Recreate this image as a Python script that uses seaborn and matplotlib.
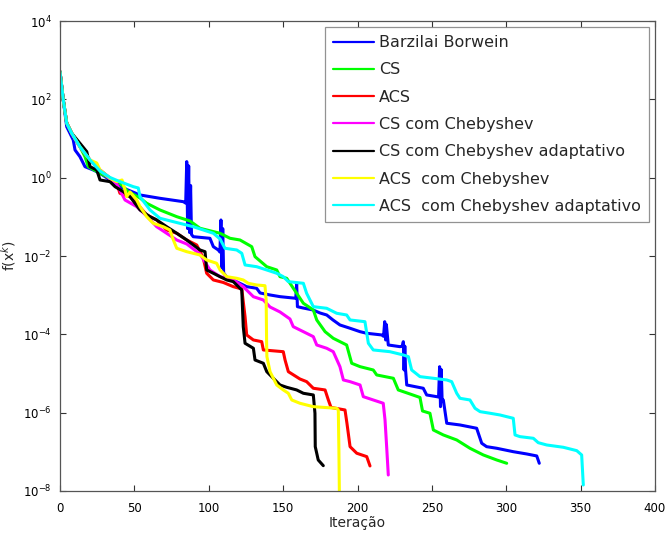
import numpy as np
import pandas as pd
import matplotlib
matplotlib.use("Agg")
import matplotlib.pyplot as plt
import seaborn as sns
from matplotlib.ticker import FixedLocator, NullLocator, LogFormatterSciNotation

# ---- data (y given as log10 f(x^k)) ----
methods = ["Barzilai Borwein", "CS", "ACS", "CS com Chebyshev",
           "CS com Chebyshev adaptativo", "ACS  com Chebyshev",
           "ACS  com Chebyshev adaptativo"]
colors = ["#0000ff", "#00ff00", "#ff0000", "#ff00ff", "#000000", "#ffff00", "#00ffff"]

bb_x = [0, 2.2, 4.5, 8.9, 10.1, 13.4, 16.8, 22.4, 26.9, 33.6, 40.3, 53.8, 67.2, 82.9,
        84.5, 85.2, 85.8, 86.5, 87.1, 87.8, 88.4, 89.6, 100.8, 103.1, 106.4, 107.5, 108.2,
        108.8, 109.4, 110, 112, 116.3, 125.5, 132.2, 134.5, 141.2, 147.9, 156.6, 158.5,
        159.1, 159.6, 163.4, 170.1, 174.8, 179.3, 183.5, 188.2, 195, 201.7, 206.2, 216.3,
        217.5, 218.3, 218.9, 219.4, 220.7, 228.6, 230.2, 230.8, 231.3, 231.8, 232.3, 233.1,
        244.2, 246.5, 253.2, 254.5, 255.2, 255.8, 256.3, 256.9, 257.7, 260, 268.9, 280.1,
        283.5, 286.8, 293.6, 304.7, 313.7, 320.5, 322.2]
bb_lf = [2.706, 1.983, 1.302, 0.962, 0.707, 0.536, 0.280, 0.196, 0.112, -0.059, -0.230,
         -0.442, -0.527, -0.613, -0.65, 0.41, -1.3, 0.3, -1.4, -0.2, -1.45, -1.507, -1.548,
         -1.762, -1.846, -1.9, -1.08, -2.3, -1.3, -2.43, -2.536, -2.612, -2.783, -2.824,
         -2.944, -2.995, -3.038, -3.072, -3.08, -2.697, -3.294, -3.327, -3.378, -3.455,
         -3.506, -3.633, -3.761, -3.845, -3.932, -3.973, -4.016, -4.05, -3.677, -4.144,
         -3.75, -4.272, -4.315, -4.3, -4.187, -4.91, -4.3, -4.9, -5.293, -5.377, -5.548,
         -5.591, -5.6, -4.826, -5.847, -4.9, -5.7, -5.676, -6.27, -6.314, -6.398, -6.781,
         -6.868, -6.909, -6.996, -7.054, -7.105, -7.292]

cs_x = [0, 2.2, 4.5, 7.9, 13.4, 16.8, 19.0, 26.9, 40.3, 45.9, 53.8, 58.3, 67.2, 78.5,
        87.4, 94.1, 107.6, 114.3, 121, 128.9, 131.1, 139, 145.7, 147.9, 152.4, 159.1,
        163.6, 170.3, 172.6, 178.2, 183.7, 192.7, 196.1, 201.7, 210.6, 212.9, 224.1,
        227.4, 235.3, 242, 243.7, 248.7, 251, 257.7, 266.7, 275.6, 284.6, 293.6, 300.3]
cs_lf = [2.706, 1.983, 1.396, 1.133, 0.791, 0.536, 0.280, 0.112, -0.143, -0.358, -0.519,
         -0.654, -0.825, -0.996, -1.106, -1.292, -1.420, -1.548, -1.591, -1.762, -2.017,
         -2.273, -2.357, -2.528, -2.569, -2.952, -3.207, -3.378, -3.633, -3.932, -4.101,
         -4.272, -4.739, -4.825, -4.910, -5.037, -5.122, -5.42, -5.523, -5.612, -5.957,
         -6.015, -6.442, -6.569, -6.697, -6.909, -7.08, -7.208, -7.292]

acs_x = [0, 2.2, 4.5, 7.9, 13.4, 20.2, 26.9, 33.6, 38.1, 40.3, 47.1, 51.6, 58.3, 65,
         71.7, 78.5, 85.2, 91.9, 96.3, 98.6, 103.1, 109.8, 116.5, 122.2, 124.4, 125.5,
         130, 135.6, 136.7, 150.1, 151.3, 153.5, 161.3, 165.8, 170.3, 178.2, 180.4, 182.2,
         191.6, 192.9, 195, 199.5, 206.2, 208.4]
acs_lf = [2.706, 1.983, 1.396, 1.133, 0.791, 0.451, 0.196, -0.008, -0.143, -0.399,
          -0.485, -0.654, -0.953, -1.080, -1.336, -1.420, -1.591, -1.719, -2.050, -2.441,
          -2.612, -2.676, -2.783, -2.842, -3.549, -4.016, -4.144, -4.187, -4.399, -4.443,
          -4.655, -4.953, -5.140, -5.208, -5.377, -5.420, -5.676, -5.867, -5.931, -6.27,
          -6.868, -7.036, -7.122, -7.36]

csc_x = [0, 2.2, 4.5, 7.9, 13.4, 20.2, 26.9, 33.6, 38.1, 43.7, 51.6, 58.3, 65, 71.7,
         78.5, 85.2, 94.1, 100.8, 107.6, 116.5, 123.2, 130, 136.7, 141.2, 147.9, 154.6,
         156.8, 163.6, 170.3, 172.6, 179.3, 183.7, 188.2, 190.5, 195, 201.7, 203.9, 210.6,
         217.3, 218.5, 219.6, 220.7]
csc_lf = [2.706, 1.983, 1.396, 1.133, 0.791, 0.451, 0.196, -0.034, -0.161, -0.570,
          -0.741, -0.978, -1.252, -1.420, -1.591, -1.693, -1.948, -2.357, -2.528, -2.612,
          -2.783, -3.039, -3.123, -3.302, -3.429, -3.608, -3.804, -3.932, -4.059, -4.272,
          -4.356, -4.443, -4.826, -5.165, -5.208, -5.293, -5.591, -5.676, -5.760, -6.186,
          -6.868, -7.591]

csca_x = [0, 2.2, 4.5, 7.9, 13.4, 18.0, 20.2, 24.7, 26.9, 33.6, 37, 42.6, 47.1, 53.8,
          60.5, 65, 71.7, 78.5, 85.2, 94.1, 97.5, 98.6, 103.1, 107.6, 112.1, 116.5, 119.9,
          122.2, 123.2, 124.4, 130, 131.1, 136.7, 139, 143.4, 147.9, 152.4, 159.1, 163.6,
          170.3, 171.4, 171.6, 173.6, 177]
csca_lf = [2.706, 1.983, 1.396, 1.133, 0.878, 0.663, 0.280, 0.196, -0.059, -0.102,
           -0.230, -0.358, -0.485, -0.825, -0.996, -1.080, -1.252, -1.420, -1.591, -1.846,
           -1.890, -2.357, -2.441, -2.528, -2.612, -2.655, -2.783, -2.868, -3.804, -4.228,
           -4.356, -4.655, -4.739, -4.953, -5.122, -5.293, -5.352, -5.420, -5.505, -5.548,
           -6.015, -6.868, -7.208, -7.353]

acsc_x = [0, 2.2, 4.5, 7.9, 13.4, 20.2, 24.7, 26.9, 33.6, 38.1, 41.7, 43.7, 44.8, 47.1,
          51.6, 53.8, 58.3, 62.7, 69.4, 73.9, 76.2, 78.5, 85.2, 94.1, 98.6, 105.3, 107.6,
          112.1, 118.8, 123.2, 126.6, 132.2, 137.8, 138.6, 138.9, 139.1, 141.2, 145.7,
          150.1, 153.5, 155.8, 161.3, 170.3, 186, 187.1, 187.5, 187.8]
acsc_lf = [2.706, 1.983, 1.396, 1.133, 0.791, 0.451, 0.375, 0.196, -0.016, -0.102,
           -0.059, -0.315, -0.485, -0.366, -0.570, -0.741, -0.996, -1.165, -1.252, -1.336,
           -1.591, -1.803, -1.890, -1.974, -2.102, -2.186, -2.357, -2.528, -2.569, -2.612,
           -2.697, -2.740, -2.758, -3.123, -4.228, -4.570, -4.953, -5.293, -5.420, -5.505,
           -5.676, -5.760, -5.847, -5.888, -5.931, -6.952, -8.0]

acsca_x = [0, 2.2, 4.5, 7.9, 13.4, 20.2, 26.9, 33.6, 40.3, 49.3, 52.6, 53.8, 60.5, 67.2,
           76.2, 89.6, 103.1, 107.6, 110.9, 118.8, 122.2, 124.4, 132.2, 139, 145.7, 150.1,
           153.5, 163.6, 165.8, 170.3, 179.3, 186, 192.7, 195, 205, 207.3, 210.6, 221.8,
           230.8, 234.2, 236.4, 242, 251, 260, 263.3, 266.7, 268.9, 275.6, 279, 282.4,
           289.1, 295.8, 300.3, 304.7, 305.9, 309.2, 318.2, 321.5, 327.2, 338.4, 347.4,
           350.7, 351.8]
acsca_lf = [2.706, 1.983, 1.388, 1.133, 0.791, 0.451, 0.170, 0.005, -0.102, -0.230,
            -0.263, -0.485, -0.825, -1.037, -1.124, -1.252, -1.420, -1.565, -1.803, -1.846,
            -1.931, -2.229, -2.273, -2.357, -2.441, -2.528, -2.655, -2.697, -2.952, -3.294,
            -3.335, -3.462, -3.506, -3.633, -3.677, -4.228, -4.399, -4.443, -4.527, -4.570,
            -4.910, -5.080, -5.122, -5.165, -5.208, -5.505, -5.633, -5.676, -5.888, -5.974,
            -6.015, -6.059, -6.102, -6.143, -6.569, -6.612, -6.654, -6.766, -6.825, -6.884,
            -6.970, -7.080, -7.846]

all_x = [bb_x, cs_x, acs_x, csc_x, csca_x, acsc_x, acsca_x]
all_lf = [bb_lf, cs_lf, acs_lf, csc_lf, csca_lf, acsc_lf, acsca_lf]

x_ticks = [0, 50, 100, 150, 200, 250, 300, 350, 400]
y_ticks = [1e-8, 1e-6, 1e-4, 1e-2, 1e0, 1e2, 1e4]

frames = []
for name, xs, lf in zip(methods, all_x, all_lf):
    frames.append(pd.DataFrame({"iter": xs, "f": np.power(10.0, lf), "method": name}))
df = pd.concat(frames, ignore_index=True)

sns.set_style("ticks")
plt.rcParams['font.family'] = ['DejaVu Sans']

fig = plt.figure(figsize=(6.67, 5.34), dpi=100)
ax = fig.add_axes([60 / 667, 43 / 534, 595 / 667, 470 / 534])

sns.lineplot(data=df, x="iter", y="f", hue="method", hue_order=methods,
             palette=dict(zip(methods, colors)), sort=False, estimator=None,
             linewidth=2.2, ax=ax, legend=True)

ax.set_yscale('log')
ax.set_xlim(0, 400)
ax.set_ylim(1e-8, 1e4)
ax.xaxis.set_major_locator(FixedLocator(x_ticks))
ax.yaxis.set_major_locator(FixedLocator(y_ticks))
ax.yaxis.set_major_formatter(LogFormatterSciNotation())
ax.yaxis.set_minor_locator(NullLocator())
ax.xaxis.set_minor_locator(NullLocator())
ax.tick_params(direction='in', length=4, width=0.8, top=True, right=True,
               labelsize=8.5, colors='#333333', labelcolor='black')
ax.tick_params(axis='x', pad=8)
ax.tick_params(axis='y', pad=6)
for s in ax.spines.values():
    s.set_visible(True)
    s.set_color('#555555')
    s.set_linewidth(0.9)

ax.set_xlabel("Iteração", fontsize=10, labelpad=1)
ax.set_ylabel("f(x$^{k}$)", fontsize=10)
ax.yaxis.set_label_coords(-0.07, 0.5)

handles, labels = ax.get_legend_handles_labels()
leg = ax.legend(handles, labels, loc='upper right', bbox_to_anchor=(0.99, 0.987),
                borderaxespad=0, frameon=True, fancybox=False, edgecolor='#777777',
                fontsize=11.5, handlelength=2.6, labelspacing=0.77, handletextpad=0.3,
                borderpad=0.5)
leg.get_frame().set_linewidth(0.9)
for h in leg.legend_handles:
    h.set_linewidth(1.6)

fig.savefig("out.png", dpi=100)
